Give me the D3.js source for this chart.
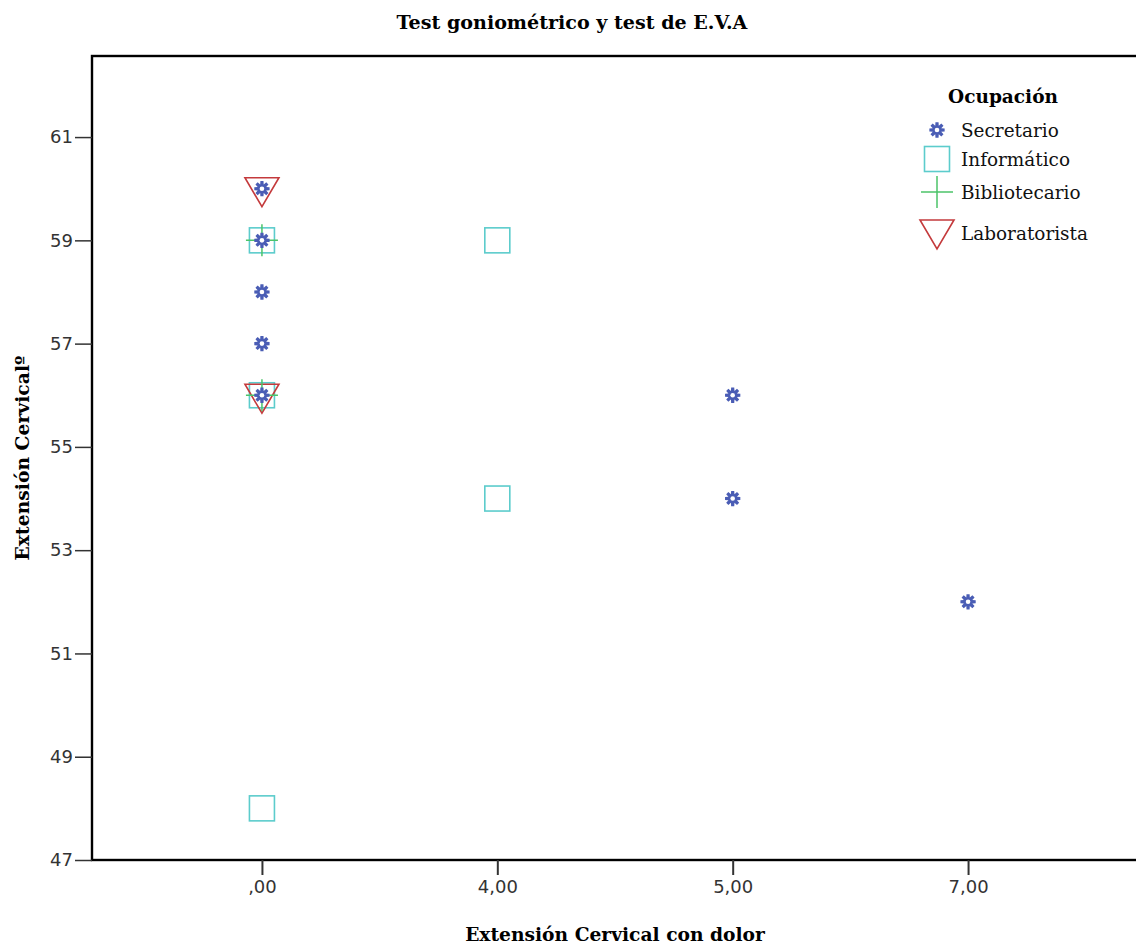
<!DOCTYPE html>
<html><head><meta charset="utf-8">
<script src="https://cdn.jsdelivr.net/npm/d3@7/dist/d3.min.js"></script>
<style>body{margin:0;background:#fff;} svg{display:block;}</style>
</head><body>
<svg id="c" width="1136" height="945"></svg>
<script>
const categories = [",00", "4,00", "5,00", "7,00"];
const yTicks = [47, 49, 51, 53, 55, 57, 59, 61];
const seriesNames = ["Secretario", "Informático", "Bibliotecario", "Laboratorista"];
const secretarioX = [",00", ",00", ",00", ",00", ",00", "5,00", "5,00", "7,00"];
const secretarioY = [60, 59, 58, 57, 56, 56, 54, 52];
const informaticoX = [",00", ",00", ",00", "4,00", "4,00"];
const informaticoY = [59, 56, 48, 59, 54];
const bibliotecarioX = [",00", ",00"];
const bibliotecarioY = [59, 56];
const laboratoristaX = [",00", ",00"];
const laboratoristaY = [60, 56];

const svg = d3.select("#c");
const L = 92, T = 56, R = 1138, B = 860;
const x = d3.scalePoint().domain(categories).range([L, R]).padding(0.722);
const y = d3.scaleLinear().domain([47, 62.57]).range([B, T]);

const colors = {Secretario:"#4a5db5", "Informático":"#5ccccc", Bibliotecario:"#4cc46a", Laboratorista:"#c43a3c"};
const serif = "'DejaVu Serif', 'Liberation Serif', serif";
const sans = "'DejaVu Sans', sans-serif";

// fit a text element's font size so its width matches a target
function fit(sel, target) {
  const n = sel.node();
  const base = 20;
  sel.attr("font-size", base);
  const w = n.getComputedTextLength();
  sel.attr("font-size", (base * target / w).toFixed(2));
  return sel;
}

// frame
svg.append("rect").attr("x", L).attr("y", T).attr("width", R - L).attr("height", B - T)
  .attr("fill", "none").attr("stroke", "#000").attr("stroke-width", 2.4);

// axes
const yAx = svg.append("g").attr("transform", `translate(${L},0)`)
  .call(d3.axisLeft(y).tickValues(yTicks).tickSize(17).tickPadding(2).tickFormat(d3.format("d")));
yAx.select(".domain").remove();
yAx.selectAll("line").attr("stroke", "#333").attr("stroke-width", 1.5);
yAx.selectAll("text").attr("font-family", sans).attr("font-size", 18).attr("fill", "#333");

const xAx = svg.append("g").attr("transform", `translate(0,${B})`)
  .call(d3.axisBottom(x).tickSize(15).tickPadding(5));
xAx.select(".domain").remove();
xAx.selectAll("line").attr("stroke", "#333").attr("stroke-width", 2);
xAx.selectAll("text").attr("font-family", sans).attr("font-size", 18).attr("fill", "#333");

// titles
fit(svg.append("text").attr("x", 572).attr("y", 29).attr("text-anchor", "middle")
  .attr("font-family", serif).attr("font-weight", "bold").text("Test goniométrico y test de E.V.A"), 351);
fit(svg.append("text").attr("x", 615).attr("y", 941).attr("text-anchor", "middle")
  .attr("font-family", serif).attr("font-weight", "bold").text("Extensión Cervical con dolor"), 300);
fit(svg.append("text").attr("transform", "translate(29,458) rotate(-90)").attr("text-anchor", "middle")
  .attr("font-family", serif).attr("font-weight", "bold").text("Extensión Cervicalº"), 205);

// marker drawers
function gearPath(r1, r2) {
  const pts = [];
  const n = 8;
  for (let i = 0; i < n; i++) {
    const a = i * 2 * Math.PI / n - Math.PI / 2;
    const w = 0.2;
    pts.push([r1 * Math.cos(a - w), r1 * Math.sin(a - w)]);
    pts.push([r1 * Math.cos(a + w), r1 * Math.sin(a + w)]);
    const b = a + Math.PI / n;
    pts.push([r2 * Math.cos(b), r2 * Math.sin(b)]);
  }
  return "M" + pts.map(p => p.join(",")).join("L") + "Z";
}
function drawStar(g, cx, cy) {
  g.append("path").attr("transform", `translate(${cx},${cy})`).attr("d", gearPath(7.8, 4.6)).attr("fill", colors.Secretario);
  g.append("circle").attr("cx", cx).attr("cy", cy).attr("r", 2.3).attr("fill", "#fff");
}
function drawSquare(g, cx, cy) {
  g.append("rect").attr("x", cx - 12.5).attr("y", cy - 12.5).attr("width", 25).attr("height", 25)
    .attr("fill", "none").attr("stroke", colors["Informático"]).attr("stroke-width", 1.6);
}
function drawPlus(g, cx, cy) {
  g.append("path").attr("d", `M${cx - 16},${cy}H${cx + 16}M${cx},${cy - 16}V${cy + 16}`)
    .attr("stroke", colors.Bibliotecario).attr("stroke-width", 1.5).attr("fill", "none");
}
function drawTri(g, cx, cy) {
  g.append("path").attr("d", `M${cx - 17},${cy - 11}L${cx + 17},${cy - 11}L${cx},${cy + 18}Z`)
    .attr("stroke", colors.Laboratorista).attr("stroke-width", 1.6).attr("fill", "none");
}

const pts = svg.append("g");
informaticoX.forEach((c, i) => drawSquare(pts, x(c), y(informaticoY[i])));
laboratoristaX.forEach((c, i) => drawTri(pts, x(c), y(laboratoristaY[i])));
bibliotecarioX.forEach((c, i) => drawPlus(pts, x(c), y(bibliotecarioY[i])));
secretarioX.forEach((c, i) => drawStar(pts, x(c), y(secretarioY[i])));

// legend
const lg = svg.append("g");
fit(lg.append("text").attr("x", 1003).attr("y", 103).attr("text-anchor", "middle")
  .attr("font-family", serif).attr("font-weight", "bold").text("Ocupación"), 110);
const legY = [131, 160, 193, 234];
const drawers = [drawStar, drawSquare, drawPlus, drawTri];
const probe = lg.append("text").attr("font-family", serif).text("Laboratorista");
fit(probe, 127);
const legSize = probe.attr("font-size");
probe.remove();
seriesNames.forEach((s, i) => {
  drawers[i](lg, 937, i === 3 ? legY[i] - 3 : legY[i] - 1);
  lg.append("text").attr("x", 961).attr("y", legY[i] + 6).attr("font-family", serif)
    .attr("font-size", legSize).attr("fill", "#111").text(s);
});
</script>
</body></html>
